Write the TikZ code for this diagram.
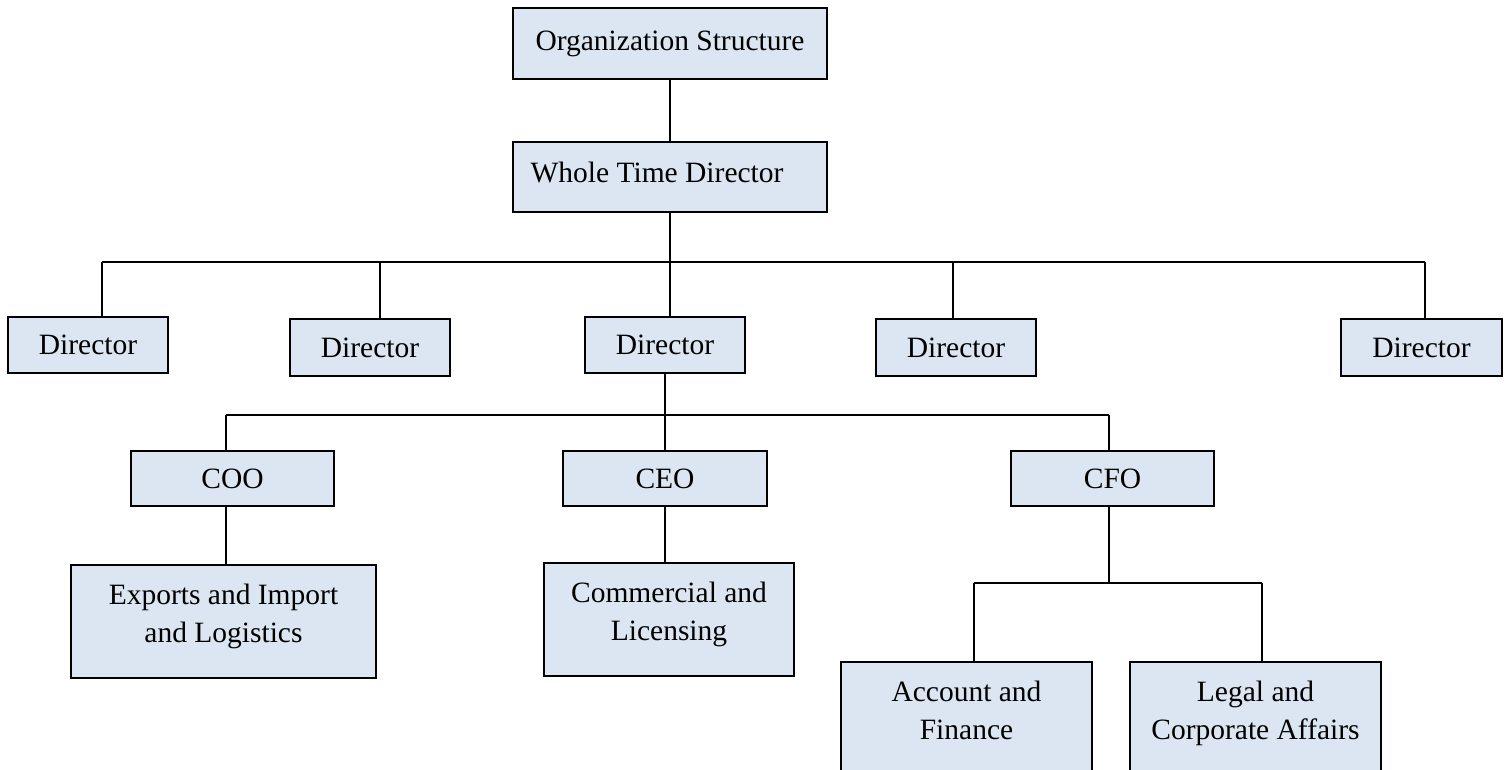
\documentclass[tikz,border=0pt]{standalone}
\usepackage{fontspec}
\setmainfont{Liberation Serif}
\definecolor{unitfill}{HTML}{DCE6F2}
\tikzset{
  unit/.style={draw=black, line width=1pt, fill=unitfill, inner sep=0pt,
    align=center, font=\fontsize{14.75}{19}\selectfont},
  link/.style={line width=0.8pt}
}
\begin{document}
\begin{tikzpicture}[x=0.5pt,y=-0.5pt]
  \useasboundingbox (0,0) rectangle (1508,770);
  \node[unit, minimum width=157pt, minimum height=35.5pt](org) at (670,43.5){Organization Structure};
  \node[unit, minimum width=157pt, minimum height=35pt, text depth=5pt](wtd) at (670,177){Whole Time Director\hspace*{13pt}};
  \node[unit, minimum width=80pt, minimum height=28pt](d1) at (88,345){Director};
  \node[unit, minimum width=80pt, minimum height=28.5pt](d2) at (370,347.5){Director};
  \node[unit, minimum width=80pt, minimum height=28pt](d3) at (665,345){Director};
  \node[unit, minimum width=80pt, minimum height=28.5pt](d4) at (956,347.5){Director};
  \node[unit, minimum width=80.5pt, minimum height=28.5pt](d5) at (1421.5,347.5){Director};
  \node[unit, minimum width=101.5pt, minimum height=27.5pt](coo) at (232.5,478.5){COO};
  \node[unit, minimum width=102pt, minimum height=27.5pt](ceo) at (665,478.5){CEO};
  \node[unit, minimum width=101.5pt, minimum height=27.5pt](cfo) at (1112.5,478.5){CFO};
  \node[unit, minimum width=152.5pt, minimum height=56.5pt, text depth=8pt](exp) at (223.5,621.5){Exports and Import\\and Logistics};
  \node[unit, minimum width=125pt, minimum height=56.5pt, text depth=8pt](com) at (669,619.5){Commercial and\\Licensing};
  \node[unit, minimum width=125.5pt, text height=38.5pt, text depth=46pt, anchor=north](acc) at (966.5,661){Account and\\Finance};
  \node[unit, minimum width=125.5pt, text height=38.5pt, text depth=46pt, anchor=north](leg) at (1255.5,661){Legal and\\Corporate Affairs};
  \coordinate (j1) at (102,262);
  \coordinate (j2) at (380,262);
  \coordinate (j4) at (953,262);
  \coordinate (j5) at (1425,262);
  \coordinate (k1) at (226,415);
  \coordinate (k3) at (1109,415);
  \coordinate (f1) at (974,583);
  \coordinate (f2) at (1262,583);
  \draw[link](org)--(wtd);
  \draw[link](wtd.south)--(wtd.south |- d3.north);
  \draw[link](j1)--(j5);
  \draw[link](j1)--(j1 |- d1.north);
  \draw[link](j2)--(j2 |- d2.north);
  \draw[link](j4)--(j4 |- d4.north);
  \draw[link](j5)--(j5 |- d5.north);
  \draw[link](d3)--(ceo);
  \draw[link](k1)--(k3);
  \draw[link](k1)--(k1 |- coo.north);
  \draw[link](k3)--(k3 |- cfo.north);
  \draw[link](k1 |- coo.south)--(k1 |- exp.north);
  \draw[link](ceo.south)--(ceo.south |- com.north);
  \draw[link](k3 |- cfo.south)--(k3 |- f1);
  \draw[link](f1)--(f2);
  \draw[link](f1)--(f1 |- acc.north);
  \draw[link](f2)--(f2 |- leg.north);
\end{tikzpicture}
\end{document}
